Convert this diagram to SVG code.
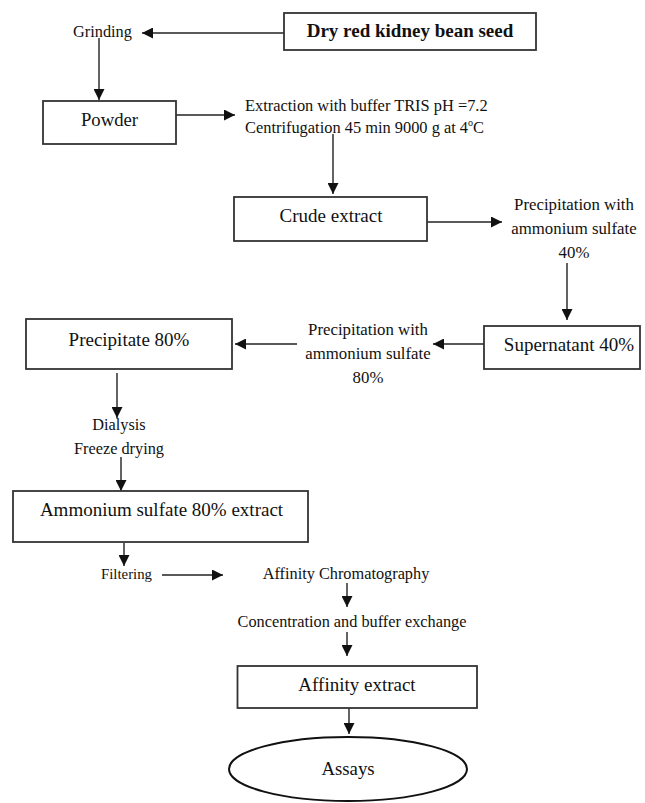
<svg xmlns="http://www.w3.org/2000/svg" width="645" height="803" viewBox="0 0 645 803">
<defs>
<marker id="ah" markerUnits="userSpaceOnUse" markerWidth="11" markerHeight="11" refX="11" refY="5.5" orient="auto">
<path d="M0,0 L11,5.5 L0,11 z" fill="#111"/>
</marker>
<style>
.box{fill:#fff;stroke:#333;stroke-width:1.8}
.t{font-family:"Liberation Serif","Times New Roman",serif;fill:#111;text-anchor:middle}
.st{text-anchor:start}
.b{font-size:19px}
.s{font-size:16.3px}
.c line{stroke:#222;stroke-width:1.4;marker-end:url(#ah)}
</style>
</defs>
<rect width="645" height="803" fill="#fff"/>
<g class="c" id="connectors">
<line x1="284" y1="33" x2="142" y2="33"/>
<line x1="99" y1="38" x2="99" y2="100"/>
<line x1="176" y1="115" x2="235" y2="115"/>
<line x1="333" y1="134" x2="333" y2="194"/>
<line x1="427" y1="222" x2="502" y2="222"/>
<line x1="567" y1="263" x2="567" y2="320"/>
<line x1="484" y1="344" x2="433" y2="344"/>
<line x1="297" y1="344" x2="235" y2="344"/>
<line x1="117" y1="373" x2="117" y2="418"/>
<line x1="121" y1="457" x2="121" y2="491"/>
<line x1="124" y1="543" x2="124" y2="566"/>
<line x1="162" y1="575" x2="223" y2="575"/>
<line x1="347" y1="583" x2="347" y2="607"/>
<line x1="347" y1="632" x2="347" y2="656"/>
<line x1="349" y1="708" x2="349" y2="734"/>
</g>
<g id="dry">
<rect class="box" x="284" y="13" width="252" height="37"/>
<text class="t b" x="410" y="37" font-weight="bold">Dry red kidney bean seed</text>
</g>
<g id="grinding"><text class="t s" x="102.5" y="37">Grinding</text></g>
<g id="powder">
<rect class="box" x="43" y="101" width="133" height="43"/>
<text class="t" x="109.5" y="126" font-size="18.7">Powder</text>
</g>
<g id="extraction">
<text class="t st" x="245" y="111" font-size="16.4">Extraction with buffer TRIS pH =7.2</text>
<text class="t st" x="245" y="133" font-size="16.4">Centrifugation 45 min 9000 g at 4<tspan font-size="10" dy="-7">o</tspan><tspan dy="7">C</tspan></text>
</g>
<g id="crude">
<rect class="box" x="234" y="197" width="193" height="44"/>
<text class="t b" x="331" y="222">Crude extract</text>
</g>
<g id="prec40">
<text class="t" x="574" y="210" font-size="16.8">Precipitation with</text>
<text class="t" x="574" y="234" font-size="16.8">ammonium sulfate</text>
<text class="t" x="574" y="258" font-size="16.8">40%</text>
</g>
<g id="supernatant">
<rect class="box" x="484" y="326" width="156" height="43"/>
<text class="t b" x="569" y="351">Supernatant 40%</text>
</g>
<g id="prec80">
<text class="t" x="368" y="335" font-size="16.8">Precipitation with</text>
<text class="t" x="368" y="359" font-size="16.8">ammonium sulfate</text>
<text class="t" x="368" y="383" font-size="16.8">80%</text>
</g>
<g id="precipitate">
<rect class="box" x="26" y="319" width="206" height="50"/>
<text class="t b" x="129" y="346">Precipitate 80%</text>
</g>
<g id="dialysis">
<text class="t s" x="119" y="430">Dialysis</text>
<text class="t s" x="119" y="454">Freeze drying</text>
</g>
<g id="ammonium">
<rect class="box" x="13" y="491" width="295" height="51"/>
<text class="t b" x="161.5" y="516">Ammonium sulfate 80% extract</text>
</g>
<g id="filtering"><text class="t" x="126.5" y="579" font-size="14.8">Filtering</text></g>
<g id="affchrom"><text class="t s" x="346" y="579">Affinity Chromatography</text></g>
<g id="concentration"><text class="t s" x="352" y="627">Concentration and buffer exchange</text></g>
<g id="affext">
<rect class="box" x="237.5" y="666" width="239.5" height="42"/>
<text class="t b" x="357" y="691">Affinity extract</text>
</g>
<g id="assays">
<ellipse cx="348" cy="769" rx="119" ry="32" fill="#fff" stroke="#111" stroke-width="2"/>
<text class="t" x="348" y="775" font-size="18.8">Assays</text>
</g>
</svg>
